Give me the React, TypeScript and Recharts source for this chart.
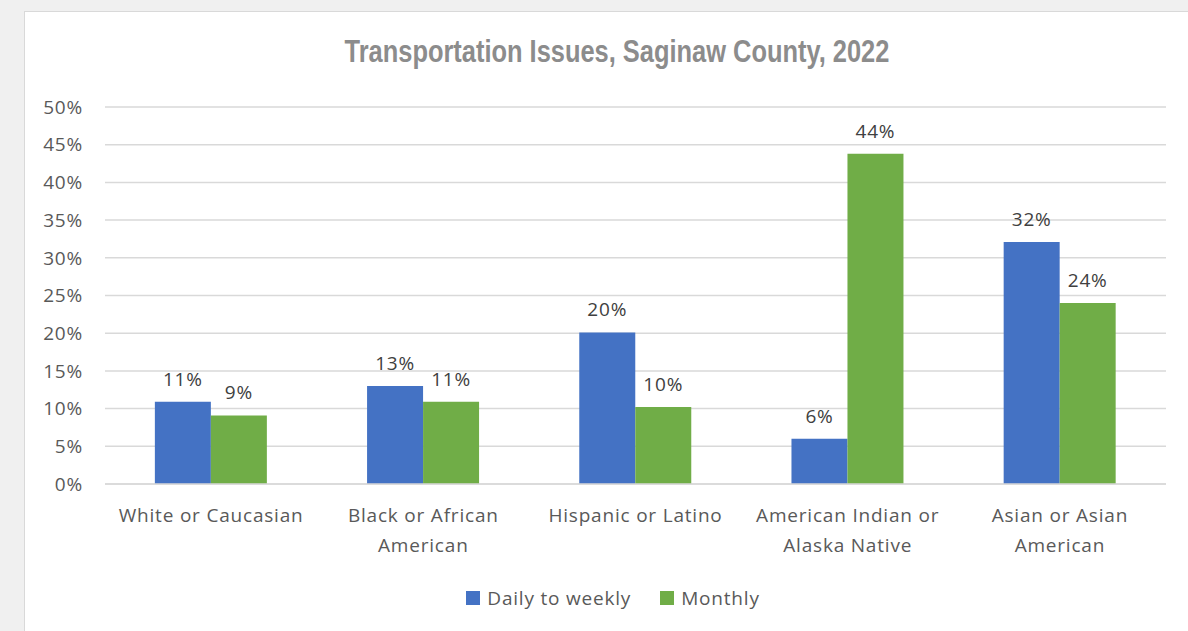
import React from "react";
import { BarChart, Bar, XAxis, YAxis, CartesianGrid, LabelList, Legend } from "recharts";

const categories = [
  "White or Caucasian",
  "Black or African\nAmerican",
  "Hispanic or Latino",
  "American Indian or\nAlaska Native",
  "Asian or Asian\nAmerican",
];
const dailyToWeekly = [10.9, 13.0, 20.1, 6.0, 32.1];
const monthly = [9.1, 10.9, 10.2, 43.8, 24.0];
const yTicks = [0, 5, 10, 15, 20, 25, 30, 35, 40, 45, 50];

const BLUE = "#4472c4";
const GREEN = "#70ad47";
const FONT = "'Open Sans', Lato, sans-serif";
const SPACING = 0.8;

const data = categories.map((c, i) => ({ name: c, daily: dailyToWeekly[i], monthly: monthly[i] }));

function CatTick(props: any) {
  const { x, y, payload } = props;
  const lines = String(payload.value).split("\n");
  return (
    <g transform={`translate(${x},${y})`}>
      {lines.map((l, i) => (
        <text
          key={i}
          x={0}
          y={i * 30}
          dy={30}
          textAnchor="middle"
          fill="#595959"
          fontSize={19}
          fontFamily={FONT}
          letterSpacing={SPACING}
        >
          {l}
        </text>
      ))}
    </g>
  );
}

function LegendBox() {
  const items = [
    { label: "Daily to weekly", color: BLUE },
    { label: "Monthly", color: GREEN },
  ];
  return (
    <div
      style={{
        display: "flex",
        justifyContent: "center",
        gap: 29,
        fontFamily: FONT,
        fontSize: 19,
        letterSpacing: SPACING,
        color: "#595959",
      }}
    >
      {items.map((it) => (
        <div key={it.label} style={{ display: "flex", alignItems: "center" }}>
          <span style={{ width: 14, height: 14, background: it.color, display: "inline-block", marginRight: 7 }} />
          {it.label}
        </div>
      ))}
    </div>
  );
}

export default function App() {
  return (
    <div style={{ position: "absolute", left: 0, top: 0, width: 1188, height: 631, background: "#f0f0f0", overflow: "hidden" }}>
      <div
        style={{
          position: "absolute",
          left: 24,
          top: 11,
          width: 1200,
          height: 640,
          background: "#fff",
          border: "1.5px solid #d9d9d9",
        }}
      />
      <div
        style={{
          position: "absolute",
          left: 0,
          top: 34,
          width: 1234,
          textAlign: "center",
          fontFamily: "'Liberation Sans Narrow', 'Arial Narrow', sans-serif",
          fontWeight: "bold",
          fontSize: 31,
          color: "#8c8c8c",
          transform: "scaleX(0.82)",
          transformOrigin: "617px 0",
        }}
      >
        Transportation Issues, Saginaw County, 2022
      </div>
      <div style={{ position: "absolute", left: 0, top: 0 }}>
        <BarChart
          width={1188}
          height={631}
          data={data}
          margin={{ top: 107, right: 22, bottom: 91, left: 0 }}
          barCategoryGap="23.5%"
          barGap={0}
        >
          <CartesianGrid horizontal vertical={false} stroke="#d9d9d9" strokeWidth={1.5} />
          <XAxis
            dataKey="name"
            axisLine={{ stroke: "#d9d9d9", strokeWidth: 1.5 }}
            tickLine={false}
            interval={0}
            tick={<CatTick />}
          />
          <YAxis
            width={105}
            domain={[0, 50]}
            ticks={yTicks}
            axisLine={false}
            tickLine={false}
            tickFormatter={(v: number) => `${v}%`}
            tick={{ fill: "#595959", fontSize: 19, fontFamily: FONT, letterSpacing: SPACING }}
            tickMargin={16}
          />
          <Legend
            verticalAlign="bottom"
            wrapperStyle={{ left: 0, width: 1226, bottom: 20 }}
            content={<LegendBox />}
          />
          <Bar dataKey="daily" fill={BLUE} isAnimationActive={false}>
            <LabelList
              dataKey="daily"
              position="top"
              offset={16}
              formatter={(v: number) => `${Math.round(v)}%`}
              style={{ fill: "#404040", fontSize: 19, fontFamily: FONT, letterSpacing: SPACING }}
            />
          </Bar>
          <Bar dataKey="monthly" fill={GREEN} isAnimationActive={false}>
            <LabelList
              dataKey="monthly"
              position="top"
              offset={16}
              formatter={(v: number) => `${Math.round(v)}%`}
              style={{ fill: "#404040", fontSize: 19, fontFamily: FONT, letterSpacing: SPACING }}
            />
          </Bar>
        </BarChart>
      </div>
    </div>
  );
}
